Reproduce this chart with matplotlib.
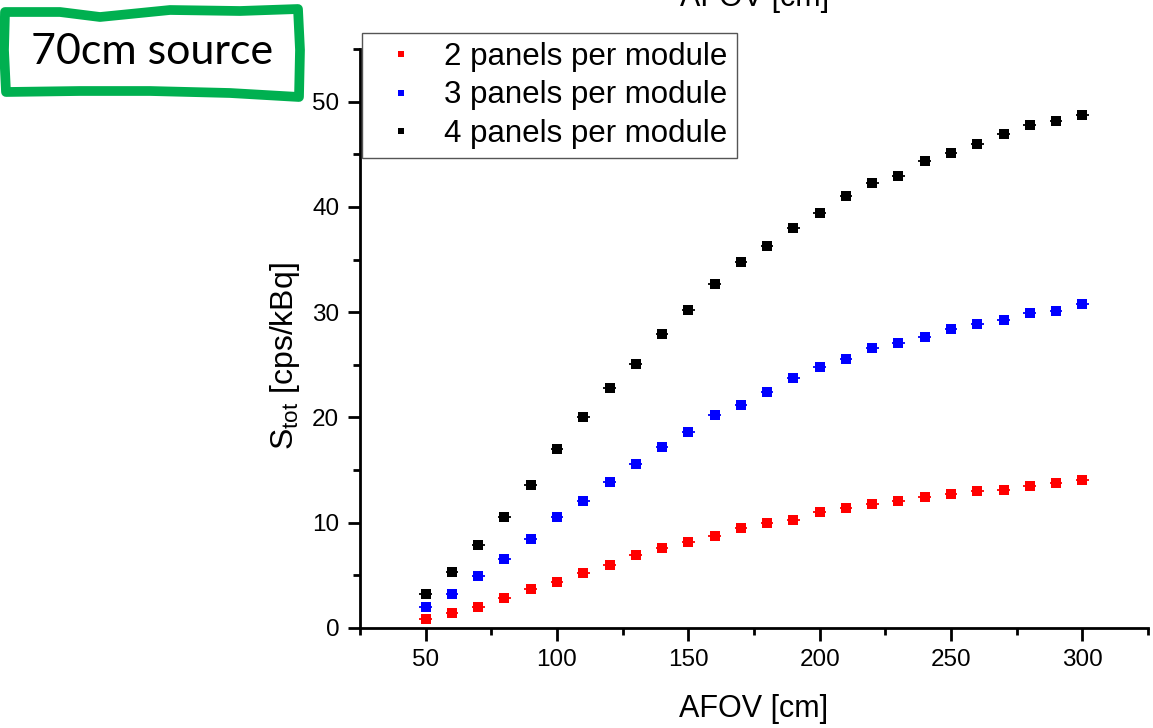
import matplotlib.pyplot as plt
from matplotlib.lines import Line2D
from matplotlib.patches import Polygon
import numpy as np

afov = [50, 60, 70, 80, 90, 100, 110, 120, 130, 140, 150, 160, 170,
        180, 190, 200, 210, 220, 230, 240, 250, 260, 270, 280, 290, 300]

s_2panels = [0.85, 1.4, 2.0, 2.85, 3.7, 4.4, 5.2, 6.0, 6.95, 7.6, 8.2, 8.75, 9.5,
             10.0, 10.25, 11.0, 11.4, 11.8, 12.05, 12.45, 12.75, 13.0, 13.1, 13.5, 13.8, 14.05]
s_3panels = [2.0, 3.2, 4.9, 6.55, 8.45, 10.55, 12.05, 13.9, 15.6, 17.2, 18.65, 20.25, 21.2,
             22.45, 23.75, 24.8, 25.55, 26.6, 27.1, 27.65, 28.4, 28.9, 29.3, 29.95, 30.15, 30.8]
s_4panels = [3.2, 5.3, 7.9, 10.55, 13.6, 17.0, 20.05, 22.8, 25.1, 27.95, 30.2, 32.7, 34.8,
             36.3, 38.0, 39.45, 41.05, 42.3, 42.95, 44.4, 45.15, 46.0, 46.95, 47.8, 48.2, 48.75]

labels = ["2 panels per module", "3 panels per module", "4 panels per module"]
colors = ["#ff0000", "#0000ff", "#000000"]

plt.rcParams['font.family'] = ['Liberation Sans', 'DejaVu Sans']

W, H = 1153, 728
fig = plt.figure(figsize=(W / 100, H / 100), dpi=100)
ax = fig.add_axes([360 / W, 1 - 628 / H, (1148 - 360) / W, (628 - 49) / H])

for s, c in zip([s_2panels, s_3panels, s_4panels], colors):
    ax.errorbar(afov, s, xerr=2.4, fmt='s', color=c, ms=6.5, mew=0,
                elinewidth=1.3, capsize=0, zorder=3)

ax.set_xlim(25, 325)
ax.set_ylim(0, 55)
ax.set_xticks([50, 100, 150, 200, 250, 300])
ax.set_xticks([25, 75, 125, 175, 225, 275, 325], minor=True)
ax.set_yticks([0, 10, 20, 30, 40, 50])
ax.set_yticks([5, 15, 25, 35, 45, 55], minor=True)
ax.tick_params(which='major', direction='out', length=9, width=2, labelsize=17.5, pad=6)
ax.tick_params(which='minor', direction='out', length=5, width=2)
ax.spines['top'].set_visible(False)
ax.spines['right'].set_visible(False)
ax.spines['left'].set_linewidth(2)
ax.spines['bottom'].set_linewidth(2)

ax.set_xlabel("AFOV [cm]", fontsize=22, labelpad=17)
ax.set_ylabel(r"S$_{\mathregular{tot}}$ [cps/kBq]", fontsize=23)
ax.yaxis.set_label_coords(-0.073, 0.47)

handles = [Line2D([], [], marker='s', ls='none', color=c, ms=5, mew=0) for c in colors]
leg = fig.legend(handles, labels, loc='upper left', fontsize=22.5,
                 bbox_to_anchor=(362 / W, 1 - 33 / H), bbox_transform=fig.transFigure,
                 borderaxespad=0, fancybox=False, framealpha=1, edgecolor='#555555',
                 handletextpad=0.42, labelspacing=0.26, borderpad=0.3, handlelength=1.9)
leg.get_frame().set_linewidth(1)

# cut-off label of the panel above
fig.text(755 / W, 1 - 6 / H, "AFOV [cm]", fontsize=22, ha='center', va='baseline')

# hand-drawn green box
pts = [(5, 12), (60, 12), (100, 17), (170, 10), (240, 11), (298, 9),
       (300, 50), (299, 97), (230, 93), (150, 91), (80, 91), (6, 92), (4, 50)]
box = Polygon([(x / W, 1 - y / H) for x, y in pts], closed=True, fill=False,
              edgecolor='#00b050', linewidth=7, joinstyle='round',
              transform=fig.transFigure)
fig.patches.append(box)
fig.text(152 / W, 1 - 52 / H, "70cm source", fontsize=31, family='Lato',
         ha='center', va='center')

fig.savefig("out.png", dpi=100)
